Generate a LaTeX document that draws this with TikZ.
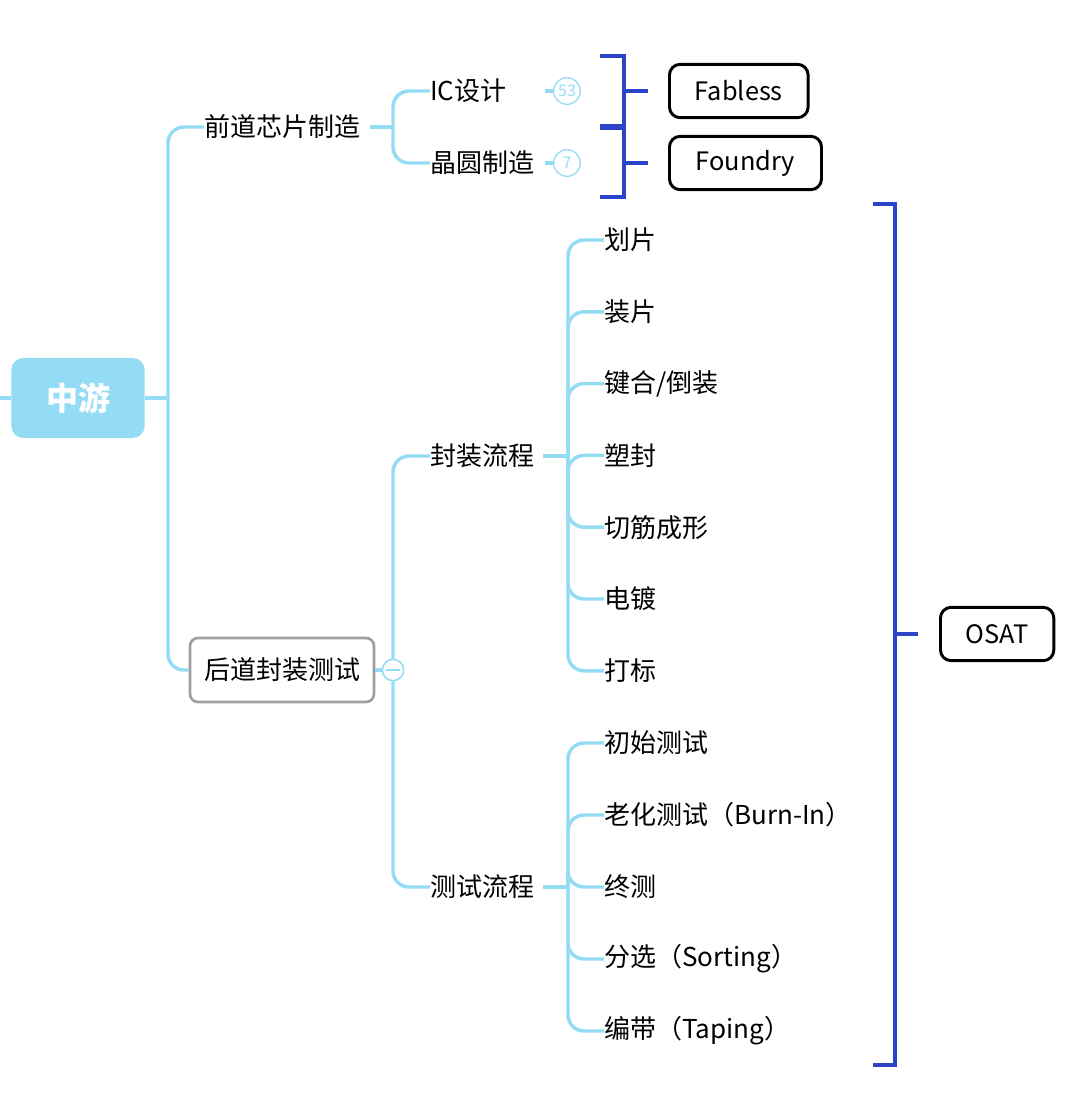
\documentclass[tikz,border=0pt]{standalone}
\usepackage{fontspec}
\setmainfont{Noto Sans CJK SC}
\definecolor{branch}{HTML}{94DCF4}
\definecolor{brace}{HTML}{2B44C8}
\tikzset{
  lnk/.style={draw=branch, line width=2.6pt, rounded corners=12pt},
  br/.style={draw=brace, line width=2.4pt},
  leaf/.style={anchor=west, inner sep=0pt, font=\fontsize{19.5}{22}\selectfont},
  tag/.style={draw=black, line width=2.2pt, rounded corners=8pt, font=\fontsize{19}{22}\selectfont, anchor=west},
  badge/.style={circle, draw=branch, line width=1pt, minimum size=20pt, inner sep=0pt, text=branch, font=\fontsize{12}{13}\selectfont}
}
\begin{document}
\begin{tikzpicture}[x=0.75pt, y=-0.75pt]
\useasboundingbox (0,0) rectangle (1070,1094);

% root
\node[fill=branch, rounded corners=9pt, minimum width=100pt, minimum height=60pt, text=white, font=\fontsize{24}{27}\selectfont\bfseries] (mid) at (78,398) {中游};
\coordinate (lin) at (0,398);
\coordinate (j0) at (168,398);
\draw[lnk] (lin) -- (mid.west);
\draw[lnk] (mid.east) -- (j0);

% level 1
\node[leaf] (front) at (204,127) {前道芯片制造};
\node[draw=gray!75, line width=2pt, rounded corners=6pt, minimum width=138pt, minimum height=48pt, font=\fontsize{19.5}{22}\selectfont] (back) at (282,670) {后道封装测试};
\draw[lnk] (j0) |- (front.west);
\draw[lnk] (j0) |- (back.west);

% front branch
\coordinate (j1) at (393,127);
\node[leaf] (ic) at (430,91) {IC设计};
\node[leaf] (wafer) at (430,163) {晶圆制造};
\draw[lnk] (370,127) -- (j1);
\draw[lnk] (j1) |- (ic.west);
\draw[lnk] (j1) |- (wafer.west);
\node[badge] (b1) at (567,91) {53};
\node[badge] (b2) at (567,163) {7};
\draw[draw=branch, line width=2.6pt] (545,91) -- (b1.west);
\draw[draw=branch, line width=2.6pt] (545,163) -- (b2.west);

% brackets to roles
\node[tag, minimum width=104pt, minimum height=40pt] (fab) at (668,91) {Fabless};
\node[tag, minimum width=114pt, minimum height=40pt] (fdy) at (668,163) {Foundry};
\draw[br] (600,56) -- (624,56) -- (624,126) -- (600,126);
\draw[br] (600,128) -- (624,128) -- (624,197) -- (600,197);
\draw[br] (624,91) -- (648,91);
\draw[br] (624,163) -- (648,163);

% back branch
\node[circle, draw=branch, line width=1.2pt, fill=white, minimum size=16pt, inner sep=0pt] (fold) at (393,670) {};
\draw[draw=branch, line width=1.2pt] ([xshift=-5pt]fold.center) -- ([xshift=5pt]fold.center);
\node[leaf] (pkg) at (430,456) {封装流程};
\node[leaf] (tst) at (430,887) {测试流程};
\draw[lnk] (back.east) -- (fold.west);
\draw[lnk] (fold.north) |- (pkg.west);
\draw[lnk] (fold.south) |- (tst.west);

% package steps
\coordinate (j2) at (568,456);
\draw[lnk] (543,456) -- (j2);
\foreach \t [count=\i from 0] in {划片,装片,键合/倒装,塑封,切筋成形,电镀,打标}{
  \node[leaf] (p\i) at (604,240+71.8*\i) {\t};
  \draw[lnk] (j2) |- (p\i.west);
}
% test steps
\coordinate (j3) at (568,887);
\draw[lnk] (543,887) -- (j3);
\foreach \t [count=\i from 0] in {初始测试,老化测试（Burn-In）,终测,分选（Sorting）,编带（Taping）}{
  \node[leaf] (t\i) at (604,743+72*\i) {\t};
  \draw[lnk] (j3) |- (t\i.west);
}

% OSAT bracket
\node[tag, minimum width=85pt, minimum height=40pt] (osat) at (939,634) {OSAT};
\draw[br] (873,204) -- (895,204) -- (895,1065) -- (873,1065);
\draw[br] (895,634) -- (918,634);
\end{tikzpicture}
\end{document}
